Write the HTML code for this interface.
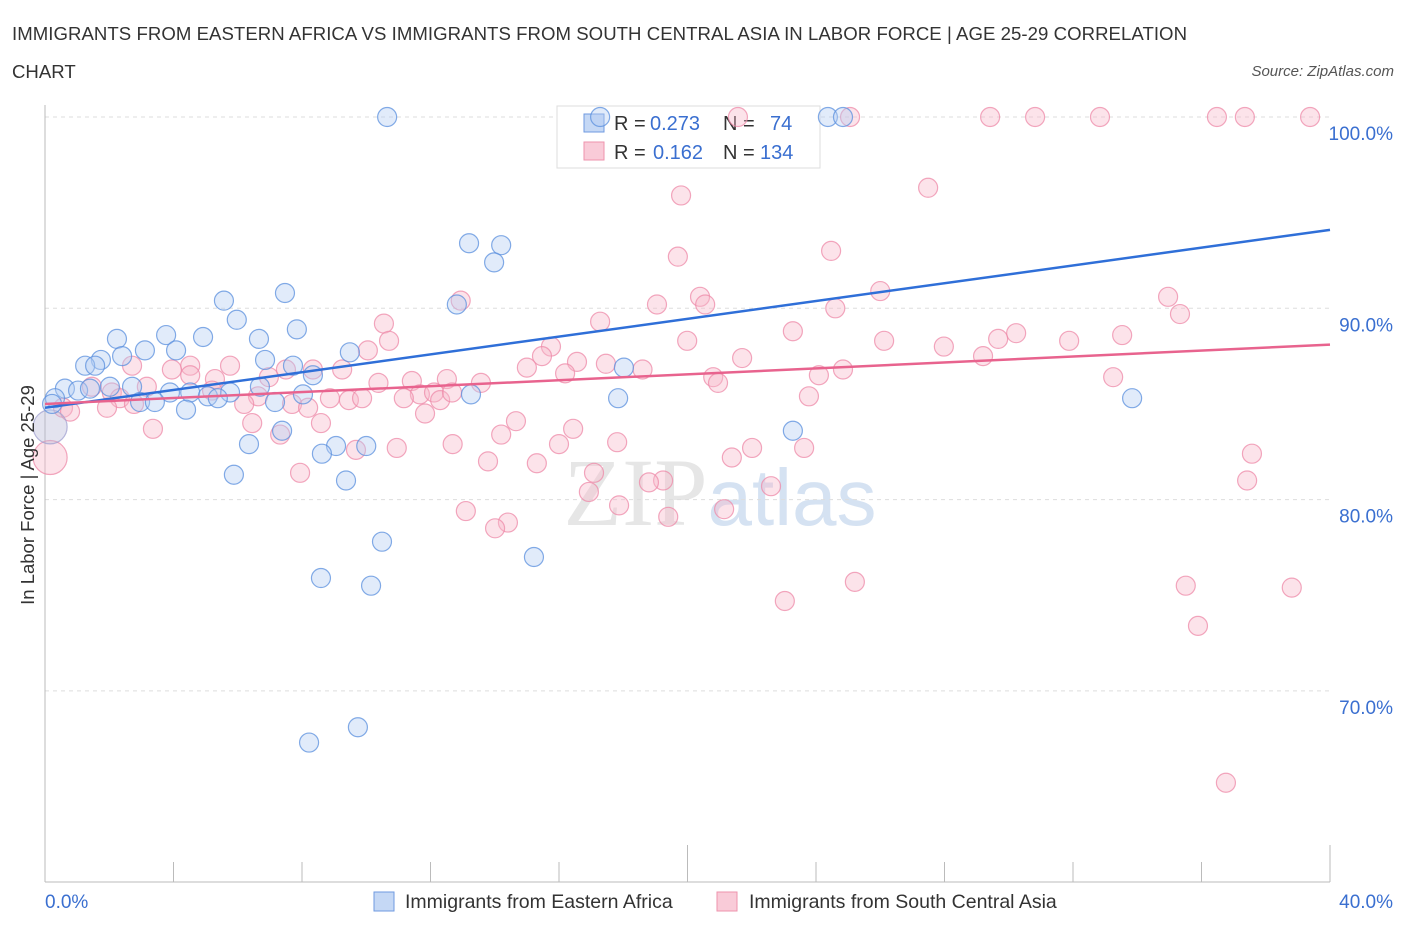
<!DOCTYPE html>
<html><head><meta charset="utf-8"><style>
body{margin:0;background:#fff;width:1406px;height:930px;overflow:hidden;font-family:"Liberation Sans",sans-serif}
</style></head><body>
<svg id="chart" width="1406" height="930" xmlns="http://www.w3.org/2000/svg" font-family="Liberation Sans, sans-serif">
<text x="12" y="40" font-size="18.6" fill="#333" textLength="1175">IMMIGRANTS FROM EASTERN AFRICA VS IMMIGRANTS FROM SOUTH CENTRAL ASIA IN LABOR FORCE | AGE 25-29 CORRELATION</text>
<text x="12" y="78" font-size="18.6" fill="#333">CHART</text>
<text x="1394" y="76" font-size="15" fill="#555" font-style="italic" text-anchor="end">Source: ZipAtlas.com</text>
<text x="720" y="525" font-size="96" fill="#e6e6e6" text-anchor="middle" font-family="Liberation Serif, serif">ZIP<tspan fill="#d5e2f2" font-family="Liberation Sans, sans-serif" font-size="80">atlas</tspan></text>
<g id="grid"></g><g id="axes"></g>
<g>
<rect x="557" y="106" width="263" height="62" fill="#fff" stroke="#ddd"/>
<rect x="584" y="114" width="20" height="18" fill="#c5d8f5" stroke="#6f9ae0"/>
<rect x="584" y="142" width="20" height="18" fill="#f9cbd8" stroke="#ee93ad"/>
<text x="614" y="130" font-size="20" fill="#333">R = <tspan x="650" fill="#3a6fd0">0.273</tspan><tspan x="723">N =</tspan><tspan x="770" fill="#3a6fd0">74</tspan></text>
<text x="614" y="159" font-size="20" fill="#333">R = <tspan x="653" fill="#3a6fd0">0.162</tspan><tspan x="723">N =</tspan><tspan x="760" fill="#3a6fd0">134</tspan></text>
</g>
<g id="pts"></g><g id="trend"></g>
<text transform="translate(34,495) rotate(-90)" font-size="18.5" fill="#333" text-anchor="middle">In Labor Force | Age 25-29</text>
<text x="45" y="908" font-size="19" fill="#3a6fd0">0.0%</text>
<text x="1393" y="908" font-size="19" fill="#3a6fd0" text-anchor="end">40.0%</text>
<g>
<rect x="374" y="892" width="20" height="19" fill="#c5d8f5" stroke="#6f9ae0"/>
<text x="405" y="908" font-size="19.5" fill="#333">Immigrants from Eastern Africa</text>
<rect x="717" y="892" width="20" height="19" fill="#f9cbd8" stroke="#ee93ad"/>
<text x="749" y="908" font-size="19.5" fill="#333">Immigrants from South Central Asia</text>
</g>
</svg>
<script>
const blueX=[10.65,17.28,24.37,24.84,13.2,14.2,13.98,12.82,5.57,7.47,5.97,7.84,2.24,3.77,4.92,6.66,3.11,4.08,9.49,2.4,1.74,6.85,1.25,1.56,7.72,18.02,8.34,0.62,1.03,2.02,2.71,3.89,4.52,5.76,6.69,8.03,13.26,17.84,0.31,2.96,3.42,5.07,5.38,7.16,4.39,33.84,0.22,23.28,7.38,6.35,9.06,10.0,8.62,5.88,9.37,10.49,15.22,8.59,10.15,9.74,8.22,1.4];
const blueY=[100,100,100,100,93.4,93.3,92.4,90.2,90.4,90.8,89.4,88.9,88.4,88.6,88.5,88.4,87.8,87.8,87.7,87.5,87.3,87.3,87.0,87.0,87.0,86.9,86.5,85.8,85.7,85.9,85.9,85.6,85.6,85.6,85.9,85.5,85.5,85.3,85.3,85.1,85.1,85.4,85.3,85.1,84.7,85.3,85.0,83.6,83.6,82.9,82.8,82.8,82.4,81.3,81.0,77.8,77.0,75.9,75.5,68.1,67.3,85.8];
const pinkX=[21.57,25.06,29.42,30.82,32.84,36.48,37.35,39.38,19.8,27.49,24.47,19.7,20.39,20.55,19.05,26.0,24.6,34.96,35.33,12.94,17.28,10.55,23.28,30.23,29.67,33.53,31.88,19.99,26.12,27.98,10.71,15.75,10.05,15.47,21.7,29.2,16.56,17.46,15.0,18.6,24.84,9.25,8.34,24.09,16.19,20.8,20.95,33.25,12.51,11.42,13.57,10.38,2.71,4.52,5.76,3.95,4.52,5.29,6.97,7.5,3.17,1.46,2.08,5.2,6.63,23.78,8.87,9.46,9.87,11.67,12.11,11.17,12.3,12.67,7.69,8.19,6.2,2.33,2.77,1.93,0.56,0.78,11.83,14.66,8.59,6.45,3.36,7.32,16.44,14.2,12.69,16.0,17.81,22.01,23.63,10.95,9.68,21.38,13.79,15.31,37.57,7.94,17.09,19.24,18.8,22.6,37.42,16.93,17.87,21.14,13.1,19.4,14.41,14.01,25.21,23.03,35.51,38.81,35.89,36.76,0.16];
const pinkY=[100,100,100,100,100,100,100,100,95.9,96.3,93.0,92.7,90.6,90.2,90.2,90.9,90.0,90.6,89.7,90.4,89.3,89.2,88.8,88.7,88.4,88.6,88.3,88.3,88.3,88.0,88.3,88.0,87.8,87.5,87.4,87.5,87.2,87.1,86.9,86.8,86.8,86.8,86.8,86.5,86.6,86.4,86.1,86.4,86.3,86.2,86.1,86.1,87.0,87.0,87.0,86.8,86.5,86.3,86.4,86.8,85.9,85.9,85.6,85.7,85.4,85.4,85.3,85.2,85.3,85.5,85.6,85.3,85.2,85.6,85.0,84.8,85.0,85.3,85.0,84.8,84.8,84.6,84.5,84.1,84.0,84.0,83.7,83.4,83.7,83.4,82.9,82.9,83.0,82.7,82.7,82.7,82.6,82.2,82.0,81.9,82.4,81.4,81.4,81.0,80.9,80.7,81.0,80.4,79.7,79.5,79.4,79.1,78.8,78.5,75.7,74.7,75.5,75.4,73.4,65.2,82.2];
const bigBlue=[0.16,83.8];
const blueTrend=[84.8,94.1];
const pinkTrend=[85.0,88.1];
const yTicks=[100,90,80,70];
const xTicks=[0,4,8,12,16,20,24,28,32,36,40];
const NS='http://www.w3.org/2000/svg';
const sx=v=>45+v*1285/40;
const sy=v=>117+(100-v)*19.13;
function mk(tag,at,parent){const e=document.createElementNS(NS,tag);for(const k in at)e.setAttribute(k,at[k]);document.getElementById(parent).appendChild(e);return e;}
yTicks.forEach(t=>{
 const l=mk('line',{x1:45,x2:1330,y1:sy(t),y2:sy(t),stroke:'#ddd','stroke-dasharray':'4,4'},'grid');
 
 
 const tx=mk('text',{x:1393,y:sy(t)+23,'font-size':19,fill:'#3a6fd0','text-anchor':'end'},'grid');
 tx.textContent=t.toFixed(1)+'%';
 
 
});
const ax=mk('line',{x1:45,x2:1330,y1:882,y2:882,stroke:'#bbb'},'axes');


const ay=mk('line',{x1:45,x2:45,y1:105,y2:882,stroke:'#bbb'},'axes');


xTicks.forEach((t,i)=>{
 const l=mk('line',{x1:sx(t),x2:sx(t),y1:882,y2:(i%5==0)?845:862,stroke:'#bbb'},'axes');
 
 
});
function dots(X,Y,fill,stroke,name){X.forEach((x,i)=>{
 const big=(x<0.2);
 const c=mk('circle',{cx:sx(x),cy:sy(Y[i]),r:big?17:9.5,fill:fill,'fill-opacity':0.4,stroke:stroke,'stroke-opacity':0.75,'stroke-width':1.2},'pts');
 
 
});}
dots(pinkX,pinkY,'#f8b8ca','#ee8aa8','pink-point');
dots([bigBlue[0]],[bigBlue[1]],'#b8b8d8','#a0a0d0','blue-point-large');
dots(blueX,blueY,'#b3cdf2','#5a8fde','blue-point');
const bl=mk('line',{x1:sx(0),y1:sy(blueTrend[0]),x2:sx(40),y2:sy(blueTrend[1]),stroke:'#2f6fd8','stroke-width':2.5},'trend');


const pl=mk('line',{x1:sx(0),y1:sy(pinkTrend[0]),x2:sx(40),y2:sy(pinkTrend[1]),stroke:'#e8638e','stroke-width':2.5},'trend');


</script>
</body></html>
